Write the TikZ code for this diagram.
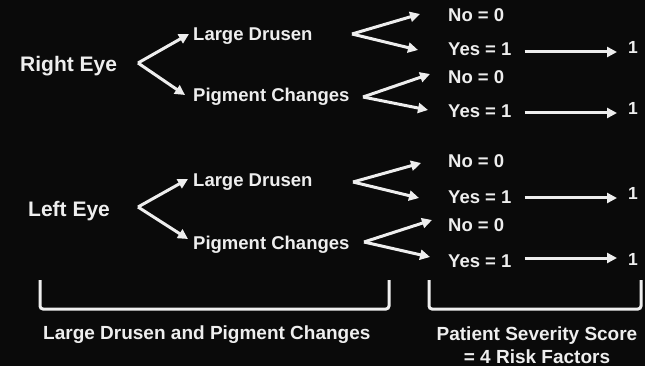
\documentclass[tikz,border=0pt]{standalone}
\usepackage{fontspec}
\setmainfont{Liberation Sans}
\usetikzlibrary{arrows.meta,calc}
\definecolor{bg}{HTML}{0A0A0A}
\definecolor{fg}{HTML}{EEEEEE}
\tikzset{
  lbl/.style={text=fg, inner sep=0pt, anchor=base west, font=\fontsize{18.5}{23}\selectfont\bfseries},
  eyelbl/.style={lbl, font=\fontsize{21}{25}\selectfont\bfseries},
  onelbl/.style={lbl, font=\fontsize{17.5}{20}\selectfont\bfseries},
  botlbl/.style={lbl, font=\fontsize{19}{23}\selectfont\bfseries},
  arr/.style={draw=fg, line width=3pt, -{Triangle[length=10pt,width=10pt]}},
  brk/.style={draw=fg, line width=3pt, rounded corners=3pt},
}
\begin{document}
\begin{tikzpicture}[x=1pt,y=-1pt]
\fill[bg] (0,0) rectangle (645,366);
\useasboundingbox (0,0) rectangle (645,366);

% --- Right eye ---
\node[eyelbl] (re) at (20,72) {Right Eye};
\node[lbl] (rld) at (193,41) {Large Drusen};
\node[lbl] (rpc) at (193,101.5) {Pigment Changes};
\node[lbl] (rn1) at (448,22) {No = 0};
\node[lbl] (ry1) at (448,56) {Yes = 1};
\node[lbl] (rn2) at (448,84) {No = 0};
\node[lbl] (ry2) at (448,118) {Yes = 1};
\node[onelbl] (ro1) at (628,54) {1};
\node[onelbl] (ro2) at (628,115) {1};

% --- Left eye ---
\node[eyelbl] (le) at (28,216) {Left Eye};
\node[lbl] (lld) at (193,187) {Large Drusen};
\node[lbl] (lpc) at (193,249) {Pigment Changes};
\node[lbl] (ln1) at (448,168) {No = 0};
\node[lbl] (ly1) at (448,204) {Yes = 1};
\node[lbl] (ln2) at (448,232) {No = 0};
\node[lbl] (ly2) at (448,267) {Yes = 1};
\node[onelbl] (lo1) at (628,200) {1};
\node[onelbl] (lo2) at (628,265) {1};

% --- fork apexes and tips ---
\coordinate (reA) at (138,63);
\coordinate (reT1) at (189,34);
\coordinate (reT2) at (185,95);
\coordinate (rldA) at (352,34);
\coordinate (rldT1) at (420,14);
\coordinate (rldT2) at (418,50);
\coordinate (rpcA) at (363,97);
\coordinate (rpcT1) at (430,74);
\coordinate (rpcT2) at (428,110);
\coordinate (leA) at (138,207);
\coordinate (leT1) at (188,179);
\coordinate (leT2) at (188,239);
\coordinate (lldA) at (353,182);
\coordinate (lldT1) at (421,163);
\coordinate (lldT2) at (419,198);
\coordinate (lpcA) at (364,242);
\coordinate (lpcT1) at (432,220);
\coordinate (lpcT2) at (430,257);

\foreach \f in {re,rld,rpc,le,lld,lpc}{
  \draw[arr] (\f A) -- (\f T1);
  \draw[arr] (\f A) -- (\f T2);
}

% --- Yes -> 1 arrows ---
\coordinate (s1) at ([xshift=13pt,yshift=4pt]ry1.base east);
\coordinate (s2) at ([xshift=13pt,yshift=5pt]ry2.base east);
\coordinate (s3) at ([xshift=13pt,yshift=6pt]ly1.base east);
\coordinate (s4) at ([xshift=13pt,yshift=9pt]ly2.base east);
\draw[arr, shorten >=11pt] (s1) -- (s1 -| ro1.west);
\draw[arr, shorten >=11pt] (s2) -- (s2 -| ro2.west);
\draw[arr, shorten >=11pt] (s3) -- (s3 -| lo1.west);
\draw[arr, shorten >=11pt] (s4) -- (s4 -| lo2.west);

% --- brackets ---
\draw[brk] (40,280) -- (40,309) -- (389,309) -- (389,280);
\draw[brk] (429,280) -- (429,309) -- (641,309) -- (641,280);

\node[botlbl] (bl) at (43,339) {Large Drusen and Pigment Changes};
\node[botlbl, anchor=north, align=center] (br) at (537,326.5) {Patient Severity Score\\= 4 Risk Factors};
\end{tikzpicture}
\end{document}
